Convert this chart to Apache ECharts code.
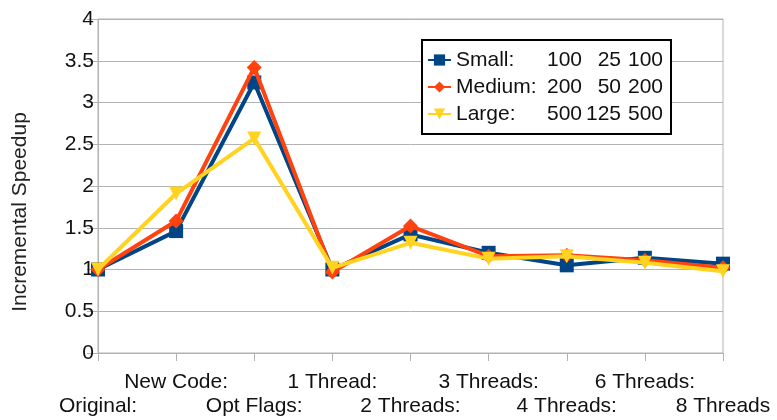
<!DOCTYPE html>
<html>
<head>
<meta charset="utf-8">
<script src="https://cdn.jsdelivr.net/npm/echarts@6/dist/echarts.min.js"></script>
<style>
html,body{margin:0;padding:0;background:#fff;}
#chart{width:777px;height:420px;}
</style>
</head>
<body>
<div id="chart"></div>
<script>
const categories = ['Original:', 'New Code:', 'Opt Flags:', '1 Thread:', '2 Threads:', '3 Threads:', '4 Threads:', '6 Threads:', '8 Threads'];
const seriesNames = ['Small:', 'Medium:', 'Large:'];
const seriesSizes = [[100, 25, 100], [200, 50, 200], [500, 125, 500]];
const small  = [1.00, 1.46, 3.24, 1.00, 1.42, 1.20, 1.05, 1.14, 1.07];
const medium = [1.00, 1.58, 3.42, 0.97, 1.52, 1.16, 1.17, 1.11, 1.02];
const large  = [1.00, 1.91, 2.57, 1.02, 1.32, 1.13, 1.16, 1.08, 0.98];
const yTicks = [0, 0.5, 1, 1.5, 2, 2.5, 3, 3.5, 4];
const yTitle = 'Incremental Speedup';

const colors = ['#004586', '#ff420e', '#ffd320'];
const symbols = ['rect', 'diamond', 'triangle'];
const rotations = [0, 0, 180];
const values = [small, medium, large];
const FONT = 'Liberation Sans';

const chart = echarts.init(document.getElementById('chart'), null, {renderer: 'canvas'});
const option = {
  animation: false,
  textStyle: {fontFamily: FONT},
  grid: {left: 98, right: 54, top: 19, bottom: 67, show: true, borderColor: '#b3b3b3', borderWidth: 1, backgroundColor: 'transparent'},
  graphic: [{
    type: 'text', x: 20, y: 212, rotation: Math.PI / 2,
    style: {text: yTitle, fill: '#222', font: '21px "Liberation Sans"', textAlign: 'center', textVerticalAlign: 'middle'}
  }],
  legend: {
    orient: 'vertical', left: 422, top: 40,
    padding: [8, 8, 8, 5], itemGap: 3,
    borderColor: '#000', borderWidth: 2, backgroundColor: '#fff',
    itemWidth: 23, itemHeight: 14,
    data: seriesNames,
    formatter: function (name) {
      const s = seriesSizes[seriesNames.indexOf(name)];
      return '{n|' + name + '}{a|' + s[0] + '}{b|' + s[1] + '}{c|' + s[2] + '}';
    },
    textStyle: {
      fontFamily: FONT, fontSize: 21, color: '#111', lineHeight: 24,
      rich: {
        n: {width: 91, align: 'left', fontSize: 21, fontFamily: FONT, color: '#111'},
        a: {width: 35, align: 'left', fontSize: 21, fontFamily: FONT, color: '#111'},
        b: {width: 39, align: 'right', fontSize: 21, fontFamily: FONT, color: '#111'},
        c: {width: 42, align: 'right', fontSize: 21, fontFamily: FONT, color: '#111'}
      }
    }
  },
  xAxis: {
    type: 'category', data: categories, boundaryGap: false,
    axisLine: {lineStyle: {color: '#b3b3b3', width: 1}},
    axisTick: {show: true, length: 8, inside: false, alignWithLabel: true, interval: 0, lineStyle: {color: '#b3b3b3'}},
    splitLine: {show: false},
    axisLabel: {
      interval: 0, margin: 17, fontSize: 21, lineHeight: 24, color: '#111', fontFamily: FONT,
      formatter: function (v, i) { return i % 2 === 0 ? '\n' + v : v; }
    }
  },
  yAxis: {
    type: 'value', min: yTicks[0], max: yTicks[yTicks.length - 1], interval: 0.5,
    axisLine: {show: true, lineStyle: {color: '#b3b3b3', width: 1}},
    axisTick: {show: true, length: 11, lineStyle: {color: '#b3b3b3'}},
    splitLine: {show: true, lineStyle: {color: '#b3b3b3', width: 1}},
    axisLabel: {fontSize: 21, color: '#111', margin: 4, fontFamily: FONT}
  },
  series: seriesNames.map(function (n, k) {
    return {
      name: n, type: 'line', data: values[k],
      symbol: symbols[k], symbolRotate: rotations[k], symbolSize: k === 1 ? 15 : 14,
      showAllSymbol: true,
      lineStyle: {color: colors[k], width: 4},
      itemStyle: {color: colors[k]},
      z: 2 + k
    };
  })
};
chart.setOption(option);
</script>
</body>
</html>
